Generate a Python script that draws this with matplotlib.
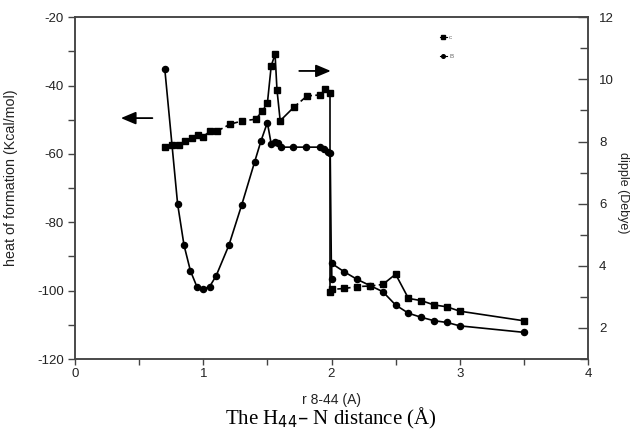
import matplotlib
matplotlib.use("Agg")
import matplotlib.pyplot as plt
from matplotlib.ticker import MultipleLocator
from matplotlib.lines import Line2D

# heat of formation (circles, left axis)
hof_r = [0.70, 0.80, 0.85, 0.90, 0.95, 1.00, 1.05, 1.10, 1.20, 1.30, 1.40, 1.45, 1.50,
         1.53, 1.56, 1.58, 1.61, 1.70, 1.80, 1.91, 1.94, 1.97, 1.99,
         2.00, 2.00, 2.10, 2.20, 2.30, 2.40, 2.50, 2.60, 2.70, 2.80, 2.90, 3.00, 3.50]
hof = [-35.1, -74.6, -86.7, -94.2, -98.8, -99.5, -98.8, -95.7, -86.7, -74.9, -62.4, -56.2, -50.8,
       -57.1, -56.6, -56.7, -58.0, -58.0, -58.0, -58.0, -58.5, -59.3, -59.8,
       -96.7, -92.0, -94.5, -96.7, -98.5, -100.3, -104.2, -106.6, -107.8, -108.8, -109.3, -110.3, -112.2]

# dipole (squares, right axis)
dip_r = [0.70, 0.755, 0.81, 0.86, 0.91, 0.96, 1.00, 1.055, 1.11, 1.21, 1.30, 1.41, 1.46, 1.50,
         1.53, 1.56, 1.575, 1.60, 1.71, 1.81, 1.91, 1.95, 1.99,
         1.99, 2.00, 2.10, 2.20, 2.30, 2.40, 2.50, 2.60, 2.70, 2.80, 2.90, 3.00, 3.50]
dip = [7.83, 7.89, 7.89, 8.02, 8.12, 8.21, 8.16, 8.34, 8.34, 8.56, 8.66, 8.72, 8.98, 9.23,
       10.44, 10.81, 9.66, 8.67, 9.12, 9.47, 9.50, 9.68, 9.55,
       3.17, 3.24, 3.27, 3.33, 3.35, 3.40, 3.73, 2.95, 2.88, 2.74, 2.68, 2.54, 2.23]

# segments of the dipole line drawn dashed / solid (start index, end index)
dashed_ranges = [(0, 13), (18, 22), (23, 28)]
solid_ranges = [(13, 18), (22, 23), (28, 35)]

x_ticks = [0, 1, 2, 3, 4]
left_ticks = [-120, -100, -80, -60, -40, -20]
right_ticks = [2, 4, 6, 8, 10, 12]
legend_labels = ['c', 'B']

plt.rcParams['font.family'] = ['Liberation Sans', 'DejaVu Sans']
fig = plt.figure(figsize=(6.31, 4.32), dpi=100)
ax = fig.add_axes([75/631, 1-359/432, (588-75)/631, (359-17.3)/432])
ax2 = ax.twinx()

spine_col = '#444444'
txt_col = '#222222'

ax.plot(hof_r, hof, '-', color='black', lw=1.2, marker='o', ms=4.4, zorder=3)

ax2.plot(dip_r, dip, 's', color='black', ms=3.8, zorder=3)
for a, b in dashed_ranges:
    ax2.plot(dip_r[a:b+1], dip[a:b+1], color='black', lw=1.2, ls=(0, (3, 2)))
for a, b in solid_ranges:
    ax2.plot(dip_r[a:b+1], dip[a:b+1], color='black', lw=1.2, ls='-')

ax.set_xlim(0, 4)
ax.set_ylim(-120, -20)
ax2.set_ylim(1, 12)
ax.set_xticks(x_ticks)
ax.set_xticklabels([str(v) for v in x_ticks])
ax.set_yticks(left_ticks)
ax.set_yticklabels([str(v) for v in left_ticks])
ax2.set_yticks(right_ticks)
ax2.set_yticklabels([str(v) for v in right_ticks])
ax.xaxis.set_minor_locator(MultipleLocator(0.5))
ax.yaxis.set_minor_locator(MultipleLocator(10))
ax2.yaxis.set_minor_locator(MultipleLocator(1))

for s in list(ax.spines.values()) + list(ax2.spines.values()):
    s.set_color(spine_col)
    s.set_linewidth(1.1)

ax.tick_params(axis='x', which='major', direction='out', length=4, width=1, color=spine_col,
               labelsize=9.5, pad=2.5, labelcolor=txt_col, top=False)
ax.tick_params(axis='x', which='minor', direction='out', length=4, width=1, color=spine_col, top=False)
ax.tick_params(axis='y', which='major', direction='out', length=5, width=1, color=spine_col,
               labelsize=9.5, pad=3, labelcolor=txt_col, right=False)
ax.tick_params(axis='y', which='minor', direction='out', length=5, width=1, color=spine_col, right=False)
ax2.tick_params(axis='y', which='major', direction='in', length=7, width=1, color=spine_col,
                labelsize=9.5, pad=8, labelcolor=txt_col)
ax2.tick_params(axis='y', which='minor', direction='in', length=6, width=1, color=spine_col)

ax.set_ylabel('heat of formation (Kcal/mol)', fontsize=10.3, color=txt_col)
ax.yaxis.set_label_coords(-0.112, 0.531)
ax2.set_ylabel('dipple (Debye)', fontsize=9, color=txt_col, rotation=270, va='center')
ax2.yaxis.set_label_coords(1.069, 0.486)
ax.set_xlabel('r 8-44 (A)', fontsize=10, color=txt_col, va='center')
ax.xaxis.set_label_coords(0.5, (359-400)/341.7)

fig.text(331/631, 1-418/432, 'The H$_{44}$\u2013 N distance (\u00c5)', ha='center', va='center',
         fontsize=15, family=['Liberation Serif', 'DejaVu Serif'], color='black')

# arrows
ax.annotate('', xy=(0.336, -49.5), xytext=(0.625, -49.5),
            arrowprops=dict(arrowstyle='-|>,head_length=0.9,head_width=0.38', color='black', lw=1.3))
ax.annotate('', xy=(2.016, -35.7), xytext=(1.727, -35.7),
            arrowprops=dict(arrowstyle='-|>,head_length=0.9,head_width=0.38', color='black', lw=1.3))

# legend
h1 = Line2D([], [], color='black', lw=0.8, ls='-', marker='s', ms=2.6)
h2 = Line2D([], [], color='black', lw=0.8, ls='-', marker='o', ms=2.6)
ax2.legend([h1, h2], legend_labels, loc='upper left', bbox_to_anchor=(0.70, 0.965),
           frameon=False, fontsize=4.5, handlelength=1.2, handletextpad=0.3,
           labelspacing=2.2, labelcolor='#666666')

fig.savefig('out.png', dpi=100)
